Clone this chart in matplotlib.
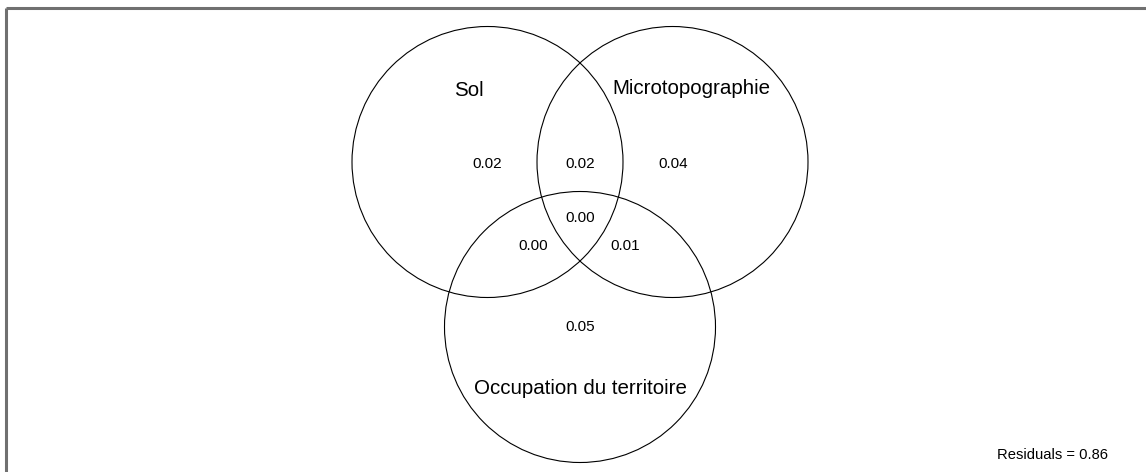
#!/usr/bin/env python3
import matplotlib
matplotlib.use("Agg")
import matplotlib.pyplot as plt
from matplotlib.patches import Circle

# variance partitioning fractions
set_names = ["Sol", "Microtopographie", "Occupation du territoire"]
fractions = ["0.02", "0.02", "0.04", "0.00", "0.00", "0.01", "0.05"]
residuals = 0.86

plt.rcParams['font.family'] = ['Liberation Sans', 'DejaVu Sans']


def main():
    fig = plt.figure(figsize=(11.46, 4.72), dpi=100)
    ax = fig.add_axes([0, 0, 1, 1])
    ax.set_xlim(0, 1146)
    ax.set_ylim(472, 0)
    ax.set_aspect("equal")
    ax.axis("off")

    # crop border (top + left only visible)
    ax.plot([6, 1146], [8, 8], color="#707070", lw=2.2, solid_capstyle="butt")
    ax.plot([6, 6], [8, 472], color="#707070", lw=2.2, solid_capstyle="butt")

    centers = [(487.5, 162), (672.5, 162), (580, 327)]
    r = 135.5
    for c in centers:
        ax.add_patch(Circle(c, r, fill=False, ec="black", lw=0.8))

    name_pos = [(469, 90), (691, 88), (580, 388)]
    for name, (x, y) in zip(set_names, name_pos):
        ax.text(x, y, name, ha="center", va="center", fontsize=14.8)

    frac_pos = [(487, 164), (580, 164), (673, 164), (533, 246), (580, 218),
                (625, 246), (580, 327)]
    for val, (x, y) in zip(fractions, frac_pos):
        ax.text(x, y, val, ha="center", va="center", fontsize=11)

    ax.text(1108, 455, "Residuals = %.2f" % residuals, ha="right", va="center",
            fontsize=10.6)

    fig.savefig("out.png", dpi=100)


if __name__ == "__main__":
    main()
